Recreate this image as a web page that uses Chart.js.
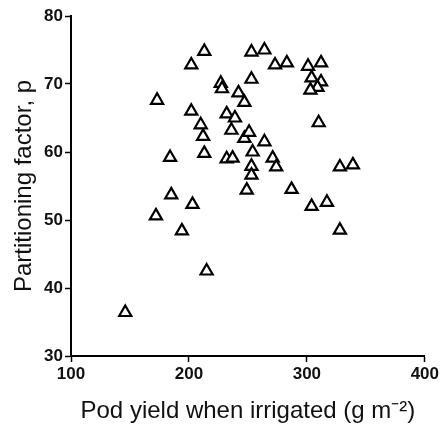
<!DOCTYPE html>
<html>
<head>
<meta charset="utf-8">
<script src="https://cdn.jsdelivr.net/npm/chart.js@4.4.0/dist/chart.umd.min.js"></script>
<style>
  body { margin: 0; background: #fff; }
  #wrap { width: 441px; height: 429px; }
</style>
</head>
<body>
<div id="wrap"><canvas id="scatter" width="441" height="429"></canvas></div>
<script>
// pod yield when irrigated (g m-2)
var podYield = [146, 172, 173, 184, 185, 194, 202, 202, 203, 210, 212, 213, 213, 215,
    227, 228, 232, 232, 237, 236, 239, 242, 247, 247, 249, 251, 253, 253, 253, 253, 254,
    264, 264, 271, 274, 273, 283, 287, 301, 312, 304, 312, 309, 303, 310, 304, 317, 328, 339, 328];
// partitioning factor p
var partFactor = [36.4, 50.6, 67.6, 59.2, 53.7, 48.4, 72.8, 66.0, 52.3, 64.0, 62.3, 74.8, 59.8, 42.5,
    70.1, 69.3, 65.6, 59.0, 59.1, 63.2, 65.0, 68.7, 67.3, 62.0, 54.4, 62.9, 70.7, 74.7, 57.9, 56.6, 60.0,
    75.0, 61.5, 59.1, 57.8, 72.8, 73.1, 54.5, 72.6, 73.1, 70.9, 70.3, 69.5, 69.1, 64.3, 52.0, 52.6, 57.8, 58.1, 48.5];
var xTicks = [100, 200, 300, 400];
var yTicks = [30, 40, 50, 60, 70, 80];

var points = podYield.map(function(x, i) { return {x: x, y: partFactor[i]}; });

var family = "'Liberation Sans', Arial, sans-serif";

new Chart(document.getElementById('scatter').getContext('2d'), {
    type: 'scatter',
    data: {
        datasets: [{
            data: points,
            pointStyle: 'triangle',
            pointRotation: 0,
            pointRadius: 7,
            pointHoverRadius: 7,
            pointBorderWidth: 2.2,
            borderColor: '#000',
            backgroundColor: '#fff'
        }]
    },
    options: {
        responsive: false,
        animation: false,
        events: [],
        layout: {padding: {left: 0, top: 16, right: 14, bottom: 0}},
        plugins: {legend: {display: false}, tooltip: {enabled: false}},
        scales: {
            x: {
                type: 'linear',
                min: xTicks[0],
                max: xTicks[xTicks.length - 1],
                afterBuildTicks: function(s) { s.ticks = xTicks.map(function(v) { return {value: v}; }); },
                afterFit: function(s) { s.height = 73; },
                grid: {drawOnChartArea: false, drawTicks: true, tickLength: 6, tickWidth: 1.5, tickColor: '#000'},
                border: {display: true, color: '#000', width: 2},
                ticks: {color: '#111', font: {family: family, size: 17, weight: 'bold'}, padding: 2, maxRotation: 0, minRotation: 0},
                title: {display: true, text: 'Pod yield when irrigated (g m\u207B\u00B2)', color: '#111',
                        font: {family: family, size: 24}, padding: {top: 0, bottom: 3}}
            },
            y: {
                type: 'linear',
                min: yTicks[0],
                max: yTicks[yTicks.length - 1],
                afterBuildTicks: function(s) { s.ticks = yTicks.map(function(v) { return {value: v}; }); },
                afterFit: function(s) { s.width = 71; },
                grid: {drawOnChartArea: false, drawTicks: true, tickLength: 6, tickWidth: 1.5, tickColor: '#000'},
                border: {display: true, color: '#000', width: 2},
                ticks: {color: '#111', font: {family: family, size: 17, weight: 'bold'}, padding: 2},
                title: {display: true, text: 'Partitioning factor, p', color: '#111',
                        font: {family: family, size: 24}, padding: {top: 10, bottom: 0}}
            }
        }
    }
});
</script>
</body>
</html>
